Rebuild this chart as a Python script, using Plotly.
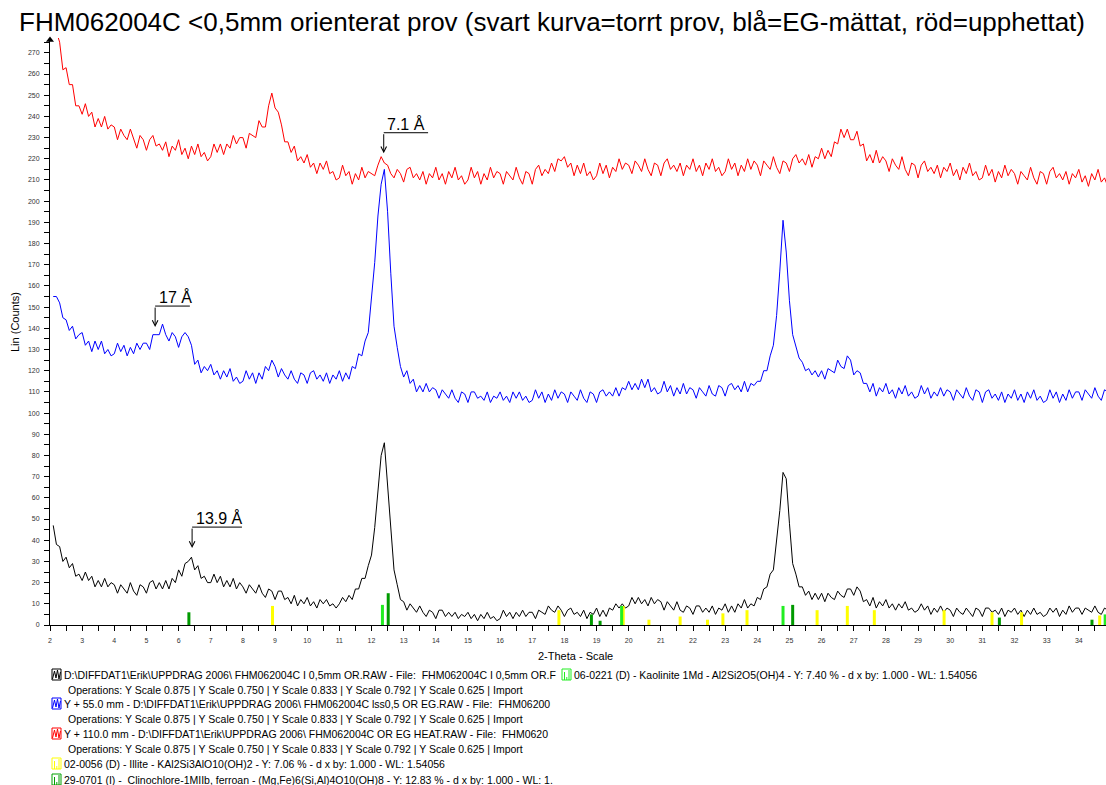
import numpy as np
import plotly.graph_objects as go

# ---------------- data ----------------
scan_start = 2.1   # degrees 2-theta
scan_step = 0.1

# black: dry sample (2.1 ... 34.9)
dry_counts = [
    47, 38, 37, 30, 32, 27, 29, 23, 24,
    21, 25, 21, 23, 18, 21, 18, 22, 18, 20,
    19, 15, 19, 17, 15, 20, 16, 14, 19, 18,
    15, 20, 21, 17, 20, 17, 21, 17, 22, 20,
    26, 23, 29, 30, 32, 26, 28, 22, 23, 20,
    20, 24, 20, 23, 18, 21, 18, 22, 17, 20,
    18, 15, 19, 17, 15, 19, 15, 13, 17, 16,
    12, 16, 16, 12, 13, 10, 14, 9, 12, 10,
    13, 9, 11, 8, 12, 10, 12, 9, 10, 8,
    10, 13, 11, 14, 12, 17, 17, 22, 22, 28,
    33, 46, 62, 80, 86, 65, 43, 26, 19, 12,
    11, 7, 10, 8, 6, 9, 6, 4, 7, 6,
    3, 7, 7, 4, 6, 4, 6, 3, 5, 4,
    6, 3, 5, 2, 5, 3, 6, 3, 4, 2,
    3, 7, 4, 6, 3, 6, 4, 7, 4, 6,
    6, 3, 7, 6, 5, 9, 7, 6, 9, 7,
    4, 7, 8, 5, 6, 4, 7, 3, 6, 5,
    8, 4, 7, 4, 8, 7, 10, 8, 10, 8,
    9, 13, 10, 13, 10, 12, 9, 13, 10, 12,
    11, 7, 11, 9, 7, 11, 7, 6, 9, 8,
    5, 9, 9, 6, 8, 6, 9, 5, 8, 7,
    10, 6, 9, 6, 10, 8, 12, 8, 10, 9,
    13, 12, 17, 18, 24, 26, 39, 54, 72, 69,
    48, 29, 24, 18, 18, 14, 16, 12, 15, 12,
    15, 11, 15, 13, 12, 16, 14, 13, 17, 17,
    14, 18, 16, 11, 12, 9, 13, 8, 11, 9,
    12, 8, 10, 7, 10, 8, 11, 7, 8, 6,
    7, 10, 7, 9, 5, 8, 6, 9, 6, 8,
    7, 4, 8, 6, 5, 8, 6, 4, 8, 7,
    4, 8, 8, 6, 7, 5, 8, 4, 7, 6,
    8, 5, 7, 4, 7, 5, 8, 5, 6, 4,
    5, 8, 6, 8, 4, 7, 5, 9, 6, 8,
    8, 5, 8, 7, 6, 9, 6, 5, 8, 7,
]

# blue: EG-saturated sample (already shifted, Y + 55 mm)
eg_counts = [
    155, 155, 152, 145, 144, 139, 141, 135, 137,
    138, 132, 134, 129, 134, 130, 134, 128, 130, 127,
    128, 133, 129, 132, 127, 131, 128, 133, 130, 133,
    133, 130, 137, 137, 137, 142, 137, 134, 138, 136,
    131, 136, 138, 136, 132, 123, 125, 119, 122, 120,
    123, 118, 120, 116, 120, 117, 121, 115, 117, 114,
    115, 120, 116, 119, 114, 119, 116, 122, 120, 125,
    122, 117, 121, 118, 116, 120, 116, 114, 119, 118,
    114, 119, 120, 116, 118, 115, 119, 114, 118, 116,
    120, 115, 119, 116, 122, 121, 128, 127, 134, 138,
    153, 171, 193, 208, 215, 195, 166, 141, 131, 122,
    117, 120, 114, 116, 110, 113, 110, 114, 110, 112,
    111, 107, 111, 109, 107, 111, 107, 105, 110, 109,
    105, 110, 110, 107, 108, 106, 110, 105, 108, 107,
    110, 106, 108, 105, 110, 107, 110, 106, 108, 105,
    106, 111, 107, 110, 105, 109, 106, 111, 107, 110,
    109, 105, 110, 108, 106, 111, 107, 105, 110, 109,
    105, 110, 111, 108, 110, 108, 112, 108, 112, 111,
    115, 111, 114, 111, 116, 112, 116, 110, 112, 109,
    110, 115, 110, 113, 108, 112, 109, 114, 109, 112,
    111, 107, 112, 110, 108, 113, 109, 108, 113, 112,
    108, 113, 114, 111, 113, 110, 115, 110, 114, 113,
    115, 115, 120, 120, 127, 132, 146, 167, 191, 176,
    153, 137, 132, 126, 124, 120, 121, 118, 120, 117,
    120, 116, 121, 120, 119, 125, 122, 121, 127, 125,
    118, 120, 119, 114, 114, 110, 114, 108, 112, 110,
    114, 109, 111, 107, 112, 109, 113, 108, 110, 107,
    108, 113, 109, 112, 107, 110, 108, 112, 108, 111,
    110, 106, 111, 109, 107, 112, 108, 106, 111, 110,
    105, 110, 111, 107, 109, 106, 110, 105, 109, 107,
    111, 106, 109, 105, 110, 107, 111, 106, 108, 105,
    106, 111, 107, 110, 105, 109, 106, 111, 107, 110,
    110, 106, 111, 109, 107, 112, 108, 106, 111, 110,
]

# red: heated sample (already shifted, Y + 110 mm)
heated_counts = [
    294, 280, 275, 262, 263, 255, 255, 245, 245,
    241, 246, 240, 242, 235, 239, 235, 240, 234, 236,
    235, 229, 234, 231, 229, 234, 229, 225, 231, 229,
    224, 229, 231, 226, 227, 224, 228, 221, 226, 224,
    229, 222, 225, 220, 226, 222, 227, 221, 223, 219,
    221, 227, 223, 227, 222, 227, 225, 231, 227, 230,
    230, 225, 232, 231, 230, 238, 235, 235, 245, 251,
    244, 242, 236, 228, 228, 223, 226, 219, 221, 218,
    222, 216, 218, 213, 218, 215, 219, 213, 214, 210,
    211, 217, 212, 214, 208, 213, 210, 216, 211, 214,
    213, 212, 217, 221, 218, 217, 213, 211, 215, 213,
    209, 215, 216, 211, 213, 210, 214, 208, 213, 211,
    216, 210, 213, 208, 214, 211, 216, 210, 212, 208,
    210, 216, 211, 214, 208, 213, 210, 216, 211, 214,
    213, 208, 214, 212, 210, 216, 211, 208, 214, 213,
    208, 215, 217, 212, 215, 213, 218, 214, 220, 219,
    221, 216, 218, 212, 217, 213, 218, 212, 214, 210,
    212, 218, 213, 217, 211, 216, 214, 220, 215, 218,
    217, 213, 219, 217, 214, 220, 215, 212, 218, 217,
    212, 218, 220, 215, 217, 214, 218, 212, 217, 215,
    220, 214, 217, 212, 218, 215, 220, 214, 216, 212,
    214, 220, 215, 218, 212, 217, 214, 220, 215, 219,
    217, 212, 219, 217, 215, 221, 216, 213, 219, 218,
    214, 220, 222, 218, 220, 217, 222, 216, 221, 220,
    225, 220, 224, 221, 228, 227, 234, 230, 234, 229,
    229, 233, 226, 227, 219, 222, 218, 224, 218, 221,
    219, 214, 220, 217, 215, 221, 215, 212, 218, 217,
    211, 217, 219, 214, 216, 213, 217, 211, 216, 214,
    218, 212, 215, 210, 216, 213, 218, 212, 214, 210,
    211, 217, 212, 215, 209, 214, 211, 217, 212, 215,
    213, 208, 214, 212, 210, 216, 211, 208, 214, 213,
    208, 214, 216, 211, 213, 210, 214, 208, 213, 211,
    215, 209, 212, 207, 213, 210, 215, 209, 211, 207,
]

# reference patterns (stick positions in 2-theta, heights in counts)
illite_pos = [8.92, 17.83, 19.83, 20.63, 21.6, 22.45, 22.93, 23.68, 25.86, 26.8, 27.64, 29.81, 31.3, 32.22, 34.65]
illite_int = [9, 7, 9, 2.5, 4, 2.5, 5.5, 7, 7, 9, 7, 7, 6, 6, 4.5]
kaolinite_pos = [12.34, 19.78, 24.8, 34.82]
kaolinite_int = [9.5, 9, 9, 5]
clinochlore_pos = [6.32, 12.52, 18.84, 19.11, 25.1, 31.53, 34.41]
clinochlore_int = [6, 15, 5, 2, 9.5, 3.5, 2.5]

x_ticks = list(range(2, 35))
y_ticks = list(range(0, 271, 10))

title_text = ("FHM062004C &lt;0,5mm orienterat prov (svart kurva=torrt prov, "
              "blå=EG-mättat, röd=upphettat)")

legend_lines = [
    ("line", "#000000", r"D:\DIFFDAT1\Erik\UPPDRAG 2006\ FHM062004C I 0,5mm OR.RAW - File:  FHM062004C I 0,5mm OR.F"),
    ("ops", None, "Operations: Y Scale 0.875 | Y Scale 0.750 | Y Scale 0.833 | Y Scale 0.792 | Y Scale 0.625 | Import"),
    ("line", "#0000FF", r"Y + 55.0 mm - D:\DIFFDAT1\Erik\UPPDRAG 2006\ FHM062004C lss0,5 OR EG.RAW - File:  FHM06200"),
    ("ops", None, "Operations: Y Scale 0.875 | Y Scale 0.750 | Y Scale 0.833 | Y Scale 0.792 | Y Scale 0.625 | Import"),
    ("line", "#FF0000", r"Y + 110.0 mm - D:\DIFFDAT1\Erik\UPPDRAG 2006\ FHM062004C OR EG HEAT.RAW - File:  FHM0620"),
    ("ops", None, "Operations: Y Scale 0.875 | Y Scale 0.750 | Y Scale 0.833 | Y Scale 0.792 | Y Scale 0.625 | Import"),
    ("stick", "#FFFF00", "02-0056 (D) - Illite - KAl2Si3AlO10(OH)2 - Y: 7.06 % - d x by: 1.000 - WL: 1.54056"),
    ("stick", "#00A000", "29-0701 (I) -  Clinochlore-1MIIb, ferroan - (Mg,Fe)6(Si,Al)4O10(OH)8 - Y: 12.83 % - d x by: 1.000 - WL: 1."),
]
kaolinite_legend = "06-0221 (D) - Kaolinite 1Md - Al2Si2O5(OH)4 - Y: 7.40 % - d x by: 1.000 - WL: 1.54056"

# ---------------- figure ----------------
n = len(dry_counts)
assert n == len(eg_counts) == len(heated_counts)
two_theta = np.round(scan_start + scan_step * np.arange(n), 2)

W, H = 1106, 785
ML, MR, MT, MB = 50, 0, 38, 160
PW, PH = W - ML - MR, H - MT - MB
X_RANGE = [2, 2 + PW / 32.15]
Y_RANGE = [0, 277]
FONT = "Liberation Sans, Arial, sans-serif"
LEG_SIZE = 10.5


def px(xp):
    return (xp - ML) / PW


def py(yp):
    return (H - MB - yp) / PH


fig = go.Figure()
for counts, color, name in [(heated_counts, "#FF0000", "heated"),
                            (eg_counts, "#0000FF", "EG"),
                            (dry_counts, "#000000", "dry")]:
    fig.add_trace(go.Scatter(x=two_theta, y=counts, mode="lines", name=name,
                             line=dict(color=color, width=1)))


def sticks(pos, inten, color, name):
    xs, ys = [], []
    for p, h in zip(pos, inten):
        xs += [p, p, None]
        ys += [0, h, None]
    fig.add_trace(go.Scatter(x=xs, y=ys, mode="lines", name=name,
                             line=dict(color=color, width=3)))


sticks(illite_pos, illite_int, "#FFFF00", "Illite")
sticks(kaolinite_pos, kaolinite_int, "#22EE22", "Kaolinite")
sticks(clinochlore_pos, clinochlore_int, "#009A00", "Clinochlore")

# axis top arrow
fig.add_trace(go.Scatter(x=[2], y=[Y_RANGE[1] - 1], mode="markers", cliponaxis=False,
                         marker=dict(symbol="triangle-up", size=7, color="black")))

shapes = []
annotations = []

# peak markers: (label, tip x, tip y, leader y, leader end x)
peak_marks = [
    ("7.1 Å", 12.38, 222.6, 232.3, 13.76),
    ("17 Å", 5.27, 140.6, 150.5, 6.35),
    ("13.9 Å", 6.42, 36.3, 46.2, 7.97),
]
for label, xt, yt, yh, xe in peak_marks:
    shapes.append(dict(type="line", xref="x", yref="y", x0=xt, x1=xe, y0=yh, y1=yh,
                       line=dict(color="black", width=1)))
    annotations.append(dict(x=xt, y=yt, ax=xt, ay=yh, axref="x", ayref="y", xref="x", yref="y",
                            text="", showarrow=True, arrowhead=5, arrowsize=1.1, arrowwidth=1,
                            arrowcolor="black", standoff=0))
    annotations.append(dict(x=xt + 0.05, y=yh, xref="x", yref="y", text=label, showarrow=False,
                            xanchor="left", yanchor="bottom", yshift=-2,
                            font=dict(family=FONT, size=16, color="black")))

# axis titles
annotations.append(dict(x=px(575), y=py(656), xref="paper", yref="paper", text="2-Theta - Scale",
                        showarrow=False, xanchor="center", yanchor="middle",
                        font=dict(family=FONT, size=11, color="black")))
annotations.append(dict(x=px(15), y=py(322), xref="paper", yref="paper", text="Lin (Counts)",
                        showarrow=False, textangle=-90, xanchor="center", yanchor="middle",
                        font=dict(family=FONT, size=11, color="black")))


def line_icon(x0, yc, color):
    y0, y1 = yc - 6, yc + 5
    shapes.append(dict(type="rect", xref="paper", yref="paper", x0=px(x0), x1=px(x0 + 9),
                       y0=py(y1), y1=py(y0), line=dict(color=color, width=1)))
    pts = [(x0 + 0.5, y1 - 1), (x0 + 2.5, y0 + 2), (x0 + 4, y1 - 2), (x0 + 5.5, y0 + 1),
           (x0 + 7, y1 - 1), (x0 + 8.5, y0 + 3)]
    path = "M " + " L ".join(f"{px(a):.5f},{py(b):.5f}" for a, b in pts)
    shapes.append(dict(type="path", xref="paper", yref="paper", path=path,
                       line=dict(color=color, width=1)))


def stick_icon(x0, yc, color):
    y0, y1 = yc - 6, yc + 5
    shapes.append(dict(type="rect", xref="paper", yref="paper", x0=px(x0), x1=px(x0 + 9),
                       y0=py(y1), y1=py(y0), line=dict(color=color, width=1)))
    for xi, top in [(x0 + 2.5, y0 + 3), (x0 + 4.8, y1 - 3), (x0 + 7, y0 + 1)]:
        shapes.append(dict(type="line", xref="paper", yref="paper", x0=px(xi), x1=px(xi),
                           y0=py(y1), y1=py(top), line=dict(color=color, width=1)))


legend_y = [675, 690, 704, 719, 734, 749, 764, 780]
for (kind, color, text), yc in zip(legend_lines, legend_y):
    if kind == "line":
        line_icon(52, yc, color)
        tx = 62
    elif kind == "stick":
        stick_icon(52, yc, color)
        tx = 62
    else:
        tx = 66
    annotations.append(dict(x=px(tx), y=py(yc), xref="paper", yref="paper", text=text,
                            showarrow=False, xanchor="left", yanchor="middle",
                            font=dict(family=FONT, size=LEG_SIZE, color="black")))
stick_icon(562, 675, "#22EE22")
annotations.append(dict(x=px(572), y=py(675), xref="paper", yref="paper", text=kaolinite_legend,
                        showarrow=False, xanchor="left", yanchor="middle",
                        font=dict(family=FONT, size=LEG_SIZE, color="black")))

axis_common = dict(showline=True, linecolor="black", linewidth=1, showgrid=False, zeroline=False,
                   ticks="outside", ticklen=5, tickwidth=1, tickcolor="black",
                   tickfont=dict(family=FONT, size=7, color="#333333"))

fig.update_layout(
    width=W, height=H,
    margin=dict(l=ML, r=MR, t=MT, b=MB, pad=0),
    paper_bgcolor="white", plot_bgcolor="white",
    showlegend=False,
    title=dict(text=title_text, x=552 / W, xref="container", xanchor="center",
               y=1 - 22 / H, yref="container", yanchor="middle",
               font=dict(family=FONT, size=26, color="black")),
    xaxis=dict(range=X_RANGE, tickvals=x_ticks, ticklabelstandoff=4,
               minor=dict(dtick=0.5, tick0=2, ticks="outside", ticklen=5, tickcolor="black"),
               **axis_common),
    yaxis=dict(range=Y_RANGE, tickvals=y_ticks, ticklabelstandoff=3,
               minor=dict(dtick=5, tick0=0, ticks="outside", ticklen=5, tickcolor="black"),
               **axis_common),
    shapes=shapes,
    annotations=annotations,
)

fig.write_html("out.html")
